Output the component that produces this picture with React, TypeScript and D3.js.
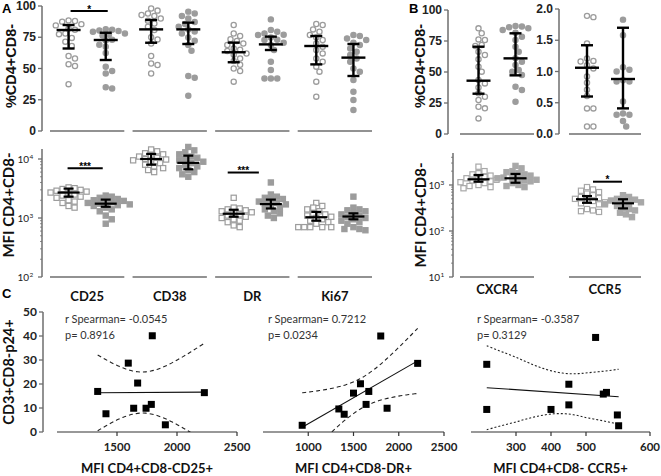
import React from 'react';
import * as d3 from 'd3';

const W = 661;
const H = 476;

// ---- panel A / B categories
const markersA = ['CD25', 'CD38', 'DR', 'Ki67'];
const markersB = ['CXCR4', 'CCR5'];

// ---- panel A top: %CD4+CD8- (open = group 1, filled = group 2)
const pctOpenCD25 = [88.5, 88, 87.5, 85.5, 84.5, 82, 81, 78, 77.5, 74.5, 71.5, 68, 60, 58, 53.5, 52, 37.5];
const pctFillCD25 = [81.5, 81, 80.5, 80, 79.5, 78, 77, 76.5, 73, 72.5, 69, 67.5, 62.5, 51.5, 48, 46, 35, 34];
const pctOpenCD38 = [98, 96.3, 94, 92.8, 92, 90, 88.3, 86, 83.5, 80.8, 75, 73.3, 70, 60, 54, 52.8, 46];
const pctFillCD38 = [95.5, 94, 92, 90, 87.2, 85.6, 83.5, 81.3, 79.7, 78.1, 74.9, 72.3, 68.8, 64.3, 44, 42.7, 28.3];
const pctOpenDR = [84.8, 78, 76, 73.5, 72, 70, 68.8, 66, 65, 64, 62, 61, 58, 56, 53, 50, 48, 39.5];
const pctFillDR = [89.3, 80.8, 79.5, 78.1, 77, 76.8, 74.9, 73, 72.8, 70.7, 68.8, 64.8, 55.5, 48.8, 42, 42, 42];
const pctOpenKi67 = [85.6, 84.8, 81.3, 79.5, 76.8, 74.9, 72.8, 70.1, 67.5, 64.8, 62.1, 58.1, 55.5, 51.5, 47.5, 39.5, 27.5];
const pctFillKi67 = [76.8, 76, 74.1, 72.8, 70.7, 68.8, 66.1, 63.5, 60.8, 58.1, 55.5, 50.1, 47.5, 40.8, 31.5, 24.8, 16.8];
// median / interquartile range
const pctMedOpen = [80.8, 81.3, 63, 68];
const pctQ3Open = [84.8, 88.8, 70.7, 76];
const pctQ1Open = [66, 70.6, 55, 53.3];
const pctMedFill = [72.8, 81.3, 69.3, 58.7];
const pctQ3Fill = [78.6, 86.7, 75.5, 69.6];
const pctQ1Fill = [56.8, 69.6, 64.8, 44];

// ---- panel A bottom: MFI (log)
const mfiOpenCD25 = [3300, 3200, 3100, 3000, 2900, 2800, 2700, 2600, 2500, 2400, 2300, 2200, 2000, 1900, 1800, 1600, 1500];
const mfiFillCD25 = [2400, 2300, 2200, 2100, 2000, 1950, 1900, 1850, 1800, 1750, 1700, 1650, 1600, 1500, 1400, 1300, 1100, 950, 800];
const mfiOpenCD38 = [14500, 13500, 12500, 12000, 11500, 11000, 10500, 10000, 9800, 9500, 9000, 8500, 8000, 7500, 7000, 6500, 6000];
const mfiFillCD38 = [16000, 14000, 13000, 12000, 11000, 10500, 10000, 9500, 9000, 8500, 8000, 7500, 7000, 6500, 6000, 5500, 5000];
const mfiOpenDR = [2200, 1500, 1450, 1400, 1350, 1300, 1250, 1200, 1150, 1100, 1050, 1000, 950, 900, 850, 750, 700];
const mfiFillDR = [4000, 2500, 2300, 2200, 2100, 2000, 1900, 1800, 1750, 1700, 1600, 1500, 1400, 1300, 1200, 1100, 1000];
const mfiOpenKi67 = [1800, 1600, 1500, 1400, 1300, 1200, 1150, 1100, 1050, 1000, 950, 900, 850, 800, 700, 700, 700, 700, 700];
const mfiFillKi67 = [2300, 1500, 1400, 1350, 1300, 1200, 1150, 1100, 1050, 1000, 950, 900, 850, 800, 700, 650, 650, 620];
const mfiMedOpen = [2700, 10000, 1180, 1030];
const mfiQ3Open = [3150, 12200, 1380, 1270];
const mfiQ1Open = [2300, 8000, 1050, 900];
const mfiMedFill = [1750, 8600, 1720, 1060];
const mfiQ3Fill = [2050, 11400, 2050, 1200];
const mfiQ1Fill = [1550, 6700, 1450, 950];

// ---- panel B top
const bPctOpen = [85.2, 81.2, 76.3, 75.8, 71.8, 71, 66.4, 63.7, 60.2, 54.3, 50.3, 43.5, 40.8, 37.6, 32.8, 30.1, 27.4, 22, 20.7, 12.6];
const bPctFill = [87.1, 86.6, 86, 85.2, 83.9, 81.7, 78.5, 75.8, 70.4, 66.4, 61, 58.3, 55.6, 51.6, 50.3, 47.6, 38.2, 35.5, 26];
const bPctStats = { open: [43, 32.5, 70.4], fill: [61, 47.3, 81.2] };
const bRatioOpen = [1.89, 1.87, 1.45, 1.21, 1.17, 1.16, 1.1, 1.05, 0.92, 0.82, 0.71, 0.61, 0.41, 0.41, 0.12, 0.12];
const bRatioFill = [1.83, 1.58, 1.07, 1.03, 1.0, 0.86, 0.84, 0.84, 0.52, 0.33, 0.31, 0.31, 0.21, 0.12];
const bRatioStats = { open: [1.06, 0.6, 1.42], fill: [0.88, 0.41, 1.7] };

// ---- panel B bottom: MFI (log)
const mfiOpenCXCR4 = [2500, 2000, 1800, 1700, 1600, 1500, 1400, 1350, 1300, 1250, 1200, 1150, 1100, 1000, 950, 900, 850];
const mfiFillCXCR4 = [2600, 2300, 2000, 1900, 1800, 1700, 1600, 1500, 1450, 1400, 1350, 1300, 1250, 1200, 1100, 1000, 950, 900];
const mfiOpenCCR5 = [900, 800, 750, 700, 650, 600, 550, 520, 500, 480, 450, 420, 400, 380, 300, 280, 270, 260];
const mfiFillCCR5 = [600, 550, 500, 480, 460, 440, 420, 400, 380, 350, 320, 300, 280, 250, 230, 200];
const bMedOpen = [1330, 490];
const bQ3Open = [1650, 575];
const bQ1Open = [1180, 410];
const bMedFill = [1400, 400];
const bQ3Fill = [1740, 490];
const bQ1Fill = [1120, 310];

// ---- panel C: correlations with CD3+CD8-p24+
const p24 = [16.9, 7.6, 28.7, 20.4, 9.9, 9.9, 11.5, 40.1, 3.0, 16.4];
const cd25X = [1339, 1408, 1594, 1672, 1639, 1742, 1786, 1794, 1903, 2228];
const drX = [933, 1338, 1397, 1500, 1577, 1669, 1639, 1801, 1871, 2209];
const drY = [2.8, 9.6, 7.4, 16.2, 20.1, 16.9, 11.5, 40, 9.9, 28.6];
const ccr5X = [235, 235, 400, 451, 451, 515, 527, 532, 549, 551];
const ccr5Y = [28.2, 9.4, 9.4, 19.9, 11.3, 39.4, 15.8, 16.5, 7.1, 2.6];
const spearman = [
  ['r Spearman= -0.0545', 'p= 0.8916'],
  ['r Spearman= 0.7212', 'p= 0.0234'],
  ['r Spearman= -0.3587', 'p= 0.3129'],
];
const cTitles = ['MFI CD4+CD8-CD25+', 'MFI CD4+CD8-DR+', 'MFI CD4+CD8- CCR5+'];
const T_DF8 = 2.306;

const ARIAL = 'Liberation Sans, Arial, sans-serif';
const CALIBRI = 'Lato, Carlito, sans-serif';
const GREY = '#9c9c9c';
const AXIS = '#6e6e6e';

// simple beeswarm: shift points sideways until they no longer overlap
function swarm(values: number[], y: (v: number) => number, d: number) {
  const placed: { x: number; y: number }[] = [];
  const out: { x: number; y: number }[] = new Array(values.length);
  const order = values.map((_, i) => i).sort((a, b) => values[b] - values[a]);
  for (const i of order) {
    const py = y(values[i]);
    let x = 0;
    for (let k = 0; k < 60; k++) {
      const off = (k === 0 ? 0 : Math.ceil(k / 2) * (k % 2 ? 1 : -1)) * d * 0.5;
      if (placed.every(p => Math.hypot(p.x - off, p.y - py) >= d * 0.92)) { x = off; break; }
    }
    placed.push({ x, y: py });
    out[i] = { x, y: py };
  }
  return out;
}

function Column({ cx, values, y, shape, filled, stats, half, cap, sw, color = GREY }: any) {
  const size = shape === 'circle' ? 6.4 : 6;
  const pts = swarm(values, y, size);
  const [med, q1, q3] = stats;
  return (
    <g>
      {pts.map((p, i) =>
        shape === 'circle' ? (
          <circle key={i} cx={cx + p.x} cy={p.y} r={2.6}
            fill={filled ? color : '#fff'} stroke={color} strokeWidth={1.3} />
        ) : (
          <rect key={i} x={cx + p.x - 2.6} y={p.y - 2.6} width={5.2} height={5.2}
            fill={filled ? color : '#fff'} stroke={color} strokeWidth={1.2} />
        )
      )}
      <g stroke="#000" strokeWidth={sw} fill="none">
        <line x1={cx} x2={cx} y1={y(q1)} y2={y(q3)} />
        <line x1={cx - cap} x2={cx + cap} y1={y(q1)} y2={y(q1)} />
        <line x1={cx - cap} x2={cx + cap} y1={y(q3)} y2={y(q3)} />
        <line x1={cx - half} x2={cx + half} y1={y(med)} y2={y(med)} />
      </g>
    </g>
  );
}

function LinAxisY({ x, scale, ticks, fmt, font, size, top }: any) {
  const [y0] = scale.range();
  return (
    <g>
      <line x1={x} x2={x} y1={y0} y2={top ?? scale.range()[1]} stroke={AXIS} strokeWidth={1.5} />
      {ticks.map((t: number) => (
        <g key={t}>
          <line x1={x - 4} x2={x} y1={scale(t)} y2={scale(t)} stroke={AXIS} strokeWidth={1.3} />
          <text x={x - 6} y={scale(t)} dy="0.35em" textAnchor="end" fontFamily={font}
            fontWeight="bold" fontSize={size} fill="#222">{fmt(t)}</text>
        </g>
      ))}
    </g>
  );
}

function LogAxisY({ x, scale, lo, hi, top }: any) {
  const majors = d3.range(lo, hi + 1).map(e => 10 ** e);
  const minors: number[] = [];
  for (let e = lo; e < hi + 1; e++) for (let m = 2; m < 10; m++) {
    const v = m * 10 ** e;
    if (scale(v) >= top) minors.push(v);
  }
  return (
    <g>
      <line x1={x} x2={x} y1={scale(10 ** lo)} y2={top} stroke={AXIS} strokeWidth={1.5} />
      {minors.map(v => (
        <line key={v} x1={x - 2} x2={x} y1={scale(v)} y2={scale(v)} stroke={AXIS} strokeWidth={0.8} />
      ))}
      {majors.map((v, i) => (
        <g key={v}>
          <line x1={x - 4} x2={x} y1={scale(v)} y2={scale(v)} stroke={AXIS} strokeWidth={1.3} />
          <text x={x - 13} y={scale(v) + 4} textAnchor="end" fontFamily={CALIBRI} fontSize={10} fill="#222">10</text>
          <text x={x - 12.5} y={scale(v) - 0.5} fontFamily={CALIBRI} fontSize={6.5} fill="#222">{lo + i}</text>
        </g>
      ))}
    </g>
  );
}

function RotLabel({ x, y, text, font, size }: any) {
  return (
    <text transform={`translate(${x},${y}) rotate(-90)`} dy="0.35em" textAnchor="middle"
      fontFamily={font} fontWeight="bold" fontSize={size} fill="#111">{text}</text>
  );
}

function Sig({ x1, x2, y, label }: any) {
  return (
    <g>
      <line x1={x1} x2={x2} y1={y} y2={y} stroke="#000" strokeWidth={2} />
      <text x={(x1 + x2) / 2} y={y + 1.5} textAnchor="middle" fontFamily={ARIAL}
        fontWeight="bold" fontSize={10} fill="#000">{label}</text>
    </g>
  );
}

function Scatter({ xs, ys, x, y, ticks, dash, title, stats, textX }: any) {
  const n = xs.length;
  const mx = d3.mean(xs) as number;
  const my = d3.mean(ys) as number;
  const sxx = d3.sum(xs, (v: number) => (v - mx) ** 2);
  const sxy = d3.sum(xs, (v: number, i: number) => (v - mx) * (ys[i] - my));
  const b = sxy / sxx;
  const a = my - b * mx;
  const sse = d3.sum(xs, (v: number, i: number) => (ys[i] - a - b * v) ** 2);
  const s = Math.sqrt(sse / (n - 2));
  const [lo, hi] = d3.extent(xs) as [number, number];
  const grid = d3.range(0, 41).map(i => lo + ((hi - lo) * i) / 40);
  const hw = (v: number) => T_DF8 * s * Math.sqrt(1 / n + (v - mx) ** 2 / sxx);
  const band = (sign: number) =>
    d3.line<number>().x(v => x(v)).y(v => y(a + b * v + sign * hw(v))).curve(d3.curveBasis)(grid) as string;
  const [r0, r1] = [x.range()[0], x.range()[x.range().length - 1]];
  const y0 = y(0);
  return (
    <g>
      <line x1={r0} x2={r1} y1={y0} y2={y0} stroke="#333" strokeWidth={1.2} />
      {ticks.map((t: number) => (
        <g key={t}>
          <line x1={x(t)} x2={x(t)} y1={y0} y2={y0 + 4} stroke="#333" strokeWidth={1.2} />
          <text x={x(t)} y={y0 + 19} textAnchor="middle" fontFamily={CALIBRI} fontWeight="bold"
            fontSize={11.5} fill="#222">{t}</text>
        </g>
      ))}
      <g clipPath="url(#clipC)" fill="none" stroke="#222" strokeWidth={1.1}>
        <path d={band(1)} strokeDasharray={dash} />
        <path d={band(-1)} strokeDasharray={dash} />
        <line x1={x(lo)} x2={x(hi)} y1={y(a + b * lo)} y2={y(a + b * hi)} stroke="#111" />
      </g>
      {xs.map((v: number, i: number) => (
        <rect key={i} x={x(v) - 3.5} y={y(ys[i]) - 3.5} width={7} height={7} fill="#000" />
      ))}
      <text x={textX} y={323} fontFamily={CALIBRI} fontSize={11} fill="#333">{stats[0]}</text>
      <text x={textX} y={339} fontFamily={CALIBRI} fontSize={11} fill="#333">{stats[1]}</text>
      <text x={(r0 + r1) / 2} y={473} textAnchor="middle" fontFamily={CALIBRI} fontWeight="bold"
        fontSize={13} fill="#111">{title}</text>
    </g>
  );
}

export default function App() {
  // panel A x layout
  const gx = d3.scaleBand<string>().domain(markersA).range([50, 372]).paddingInner(0.1);
  const sub = (g: number, k: number) => g + gx.bandwidth() * (k ? 0.75 : 0.25);

  const yPct = d3.scaleLinear().domain([0, 100]).range([131, 6]);
  const yMfiA = d3.scaleLog().domain([100, 10000]).range([277, 159]);

  const pctOpen = [pctOpenCD25, pctOpenCD38, pctOpenDR, pctOpenKi67];
  const pctFill = [pctFillCD25, pctFillCD38, pctFillDR, pctFillKi67];
  const mfiOpen = [mfiOpenCD25, mfiOpenCD38, mfiOpenDR, mfiOpenKi67];
  const mfiFill = [mfiFillCD25, mfiFillCD38, mfiFillDR, mfiFillKi67];

  // panel B
  const yPctB = d3.scaleLinear().domain([0, 100]).range([134, 10]);
  const yRatio = d3.scaleLinear().domain([0, 2]).range([134, 9]);
  const yMfiB = d3.scaleLog().domain([10, 1000]).range([277, 185]);
  const bBands = [[460, 534], [569, 641]];
  const bsub = (i: number, k: number) => bBands[i][0] + (bBands[i][1] - bBands[i][0]) * (k ? 0.75 : 0.25);
  const bOpen = [mfiOpenCXCR4, mfiOpenCCR5];
  const bFill = [mfiFillCXCR4, mfiFillCCR5];

  // panel C
  const yC = d3.scaleLinear().domain([0, 50]).range([432, 312]);
  const x1 = d3.scaleLinear().domain([1000, 2500]).range([57, 237]);
  const x2 = d3.scaleLinear().domain([500, 2500]).range([263, 444]);
  const x3 = d3.scaleLinear().domain([200, 300, 400, 500, 600]).range([471, 516, 551, 586, 650]);

  return (
    <svg width={W} height={H} style={{ display: 'block', position: 'absolute', left: 0, top: 0, background: '#fff' }}>
      <defs>
        <clipPath id="clipC"><rect x={0} y={300} width={W} height={132} /></clipPath>
      </defs>
      <rect width={W} height={H} fill="#fff" />

      {/* panel letters */}
      <text x={2} y={13} fontFamily={ARIAL} fontWeight="bold" fontSize={13}>A</text>
      <text x={409} y={13} fontFamily={ARIAL} fontWeight="bold" fontSize={13}>B</text>
      <text x={2} y={298} fontFamily={ARIAL} fontWeight="bold" fontSize={13}>C</text>

      {/* ---------- A top ---------- */}
      <RotLabel x={11} y={66} text="%CD4+CD8-" font={ARIAL} size={14.5} />
      <LinAxisY x={42} scale={yPct} ticks={[0, 25, 50, 75, 100]} fmt={(t: number) => t} font={ARIAL} size={12} />
      {markersA.map((m, i) => {
        const g0 = gx(m) as number;
        return (
          <g key={m}>
            <line x1={g0} x2={g0 + gx.bandwidth()} y1={yPct(0)} y2={yPct(0)} stroke={AXIS} strokeWidth={1.5} />
            <Column cx={sub(g0, 0)} values={pctOpen[i]} y={yPct} shape="circle" filled={false}
              stats={[pctMedOpen[i], pctQ1Open[i], pctQ3Open[i]]} half={12} cap={6} sw={2.4} />
            <Column cx={sub(g0, 1)} values={pctFill[i]} y={yPct} shape="circle" filled
              stats={[pctMedFill[i], pctQ1Fill[i], pctQ3Fill[i]]} half={12} cap={6} sw={2.4} />
          </g>
        );
      })}
      <Sig x1={sub(gx('CD25') as number, 0) + 2} x2={sub(gx('CD25') as number, 1) + 2} y={yPct(96)} label="*" />

      {/* ---------- A bottom ---------- */}
      <RotLabel x={9} y={205} text="MFI CD4+CD8-" font={CALIBRI} size={15} />
      <LogAxisY x={42} scale={yMfiA} lo={2} hi={4} top={149} />
      {markersA.map((m, i) => {
        const g0 = gx(m) as number;
        return (
          <g key={m}>
            <line x1={g0} x2={g0 + gx.bandwidth()} y1={yMfiA(100)} y2={yMfiA(100)} stroke={AXIS} strokeWidth={1.5} />
            <Column cx={sub(g0, 0)} values={mfiOpen[i]} y={yMfiA} shape="square" filled={false}
              stats={[mfiMedOpen[i], mfiQ1Open[i], mfiQ3Open[i]]} half={11} cap={5} sw={2.2} />
            <Column cx={sub(g0, 1)} values={mfiFill[i]} y={yMfiA} shape="square" filled
              stats={[mfiMedFill[i], mfiQ1Fill[i], mfiQ3Fill[i]]} half={11} cap={5} sw={2.2} />
            <text x={g0 + gx.bandwidth() / 2} y={301} textAnchor="middle" fontFamily={CALIBRI}
              fontWeight="bold" fontSize={13} fill="#111">{m}</text>
          </g>
        );
      })}
      <Sig x1={sub(gx('CD25') as number, 0) - 1} x2={sub(gx('CD25') as number, 1) - 3} y={yMfiA(7000)} label="***" />
      <Sig x1={sub(gx('DR') as number, 0) - 6} x2={sub(gx('DR') as number, 1) - 12} y={yMfiA(5900)} label="***" />

      {/* ---------- B top ---------- */}
      <RotLabel x={420} y={66} text="%CD4+CD8-" font={ARIAL} size={14.5} />
      <LinAxisY x={448} scale={yPctB} ticks={[0, 25, 50, 75, 100]} fmt={(t: number) => t} font={ARIAL} size={12} />
      <line x1={bBands[0][0]} x2={bBands[0][1]} y1={yPctB(0)} y2={yPctB(0)} stroke={AXIS} strokeWidth={1.5} />
      <Column cx={bsub(0, 0)} values={bPctOpen} y={yPctB} shape="circle" filled={false} stats={bPctStats.open} half={12} cap={6} sw={2.4} />
      <Column cx={bsub(0, 1)} values={bPctFill} y={yPctB} shape="circle" filled stats={bPctStats.fill} half={12} cap={6} sw={2.4} />
      <LinAxisY x={559} scale={yRatio} ticks={[0, 0.5, 1, 1.5, 2]} fmt={d3.format('.1f')} font={ARIAL} size={12} />
      <line x1={bBands[1][0]} x2={bBands[1][1]} y1={yRatio(0)} y2={yRatio(0)} stroke={AXIS} strokeWidth={1.5} />
      <Column cx={bsub(1, 0)} values={bRatioOpen} y={yRatio} shape="circle" filled={false} stats={bRatioStats.open} half={12} cap={6} sw={2.4} />
      <Column cx={bsub(1, 1)} values={bRatioFill} y={yRatio} shape="circle" filled stats={bRatioStats.fill} half={12} cap={6} sw={2.4} />

      {/* ---------- B bottom ---------- */}
      <RotLabel x={421} y={215} text="MFI CD4+CD8-" font={CALIBRI} size={15} />
      <LogAxisY x={453} scale={yMfiB} lo={1} hi={3} top={153} />
      {markersB.map((m, i) => (
        <g key={m}>
          <line x1={bBands[i][0]} x2={bBands[i][1]} y1={yMfiB(10)} y2={yMfiB(10)} stroke={AXIS} strokeWidth={1.5} />
          <Column cx={bsub(i, 0)} values={bOpen[i]} y={yMfiB} shape="square" filled={false} color="#a8a8a8"
            stats={[bMedOpen[i], bQ1Open[i], bQ3Open[i]]} half={11} cap={5} sw={2.2} />
          <Column cx={bsub(i, 1)} values={bFill[i]} y={yMfiB} shape="square" filled color="#a8a8a8"
            stats={[bMedFill[i], bQ1Fill[i], bQ3Fill[i]]} half={11} cap={5} sw={2.2} />
          <text x={(bBands[i][0] + bBands[i][1]) / 2} y={294} textAnchor="middle" fontFamily={CALIBRI}
            fontWeight="bold" fontSize={13} fill="#111">{m}</text>
        </g>
      ))}
      <Sig x1={bsub(1, 0) + 6} x2={bsub(1, 1) - 1} y={yMfiB(1180)} label="*" />

      {/* ---------- C ---------- */}
      <RotLabel x={9} y={372} text="CD3+CD8-p24+" font={CALIBRI} size={14.5} />
      <LinAxisY x={43} scale={yC} ticks={[0, 10, 20, 30, 40, 50]} fmt={(t: number) => t} font={CALIBRI} size={12} />
      <Scatter xs={cd25X} ys={p24} x={x1} y={yC} ticks={[1500, 2000, 2500]} dash="4,3"
        title={cTitles[0]} stats={spearman[0]} textX={65} />
      <Scatter xs={drX} ys={drY} x={x2} y={yC} ticks={[1000, 1500, 2000, 2500]} dash="4,3"
        title={cTitles[1]} stats={spearman[1]} textX={268} />
      <Scatter xs={ccr5X} ys={ccr5Y} x={x3} y={yC} ticks={[300, 400, 500, 600]} dash="2,2"
        title={cTitles[2]} stats={spearman[2]} textX={477} />
    </svg>
  );
}
